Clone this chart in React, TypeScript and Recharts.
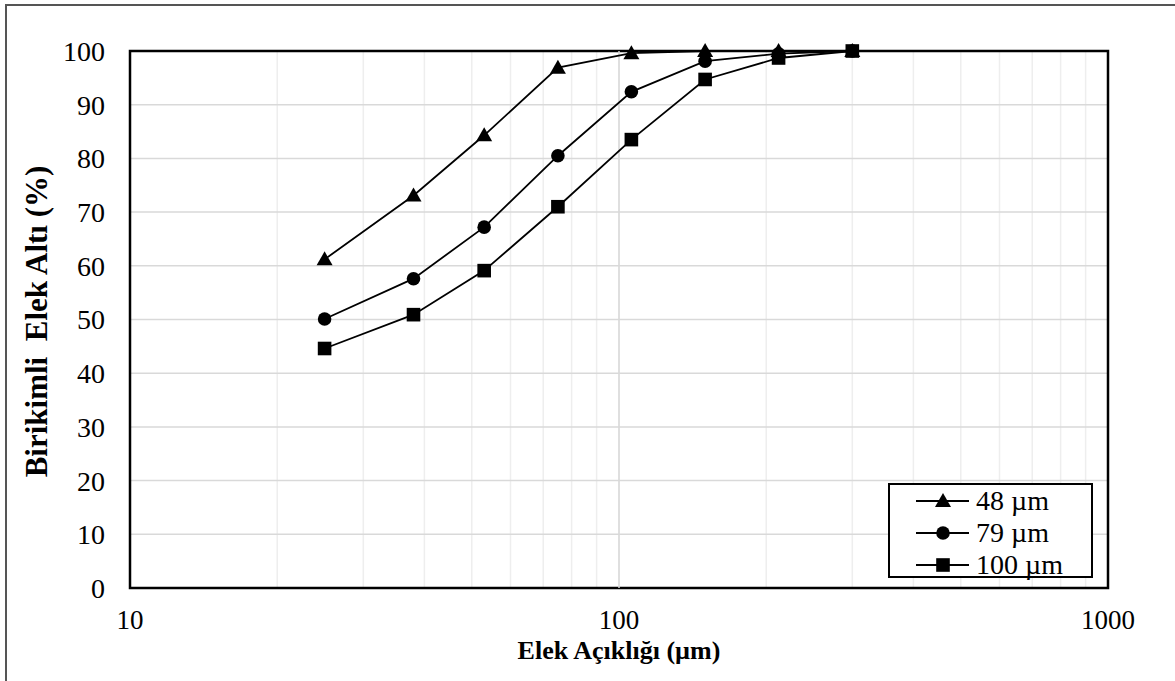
import React from 'react'
import { LineChart, Line, XAxis, YAxis, CartesianGrid, ReferenceLine, ReferenceArea, Label } from 'recharts'

// sieve openings (µm) and cumulative passing (%)
const sizes = [25, 38, 53, 75, 106, 150, 212, 300]
const pass48 = [61.2, 73.1, 84.3, 96.9, 99.6, 100, 100, 100]
const pass79 = [50.1, 57.6, 67.2, 80.5, 92.4, 98.1, 99.5, 100]
const pass100 = [44.6, 50.9, 59.1, 71.0, 83.5, 94.7, 98.7, 100]
const seriesNames = ['48 µm', '79 µm', '100 µm']
const seriesKeys = ['s48', 's79', 's100']

const xTicks = [10, 20, 30, 40, 50, 60, 70, 80, 90, 100, 200, 300, 400, 500, 600, 700, 800, 900, 1000]
const xLabels = [10, 100, 1000]
const yTicks = [0, 10, 20, 30, 40, 50, 60, 70, 80, 90, 100]

const data = sizes.map((size, i) => ({ size, s48: pass48[i], s79: pass79[i], s100: pass100[i] }))

const FONT = '"Liberation Serif", "Times New Roman", serif'

const Marker = ({ shape, cx, cy }: { shape: number, cx: number, cy: number }) => {
    if (shape === 0) {
        return <path d={`M${cx},${cy - 8} L${cx + 8},${cy + 6} L${cx - 8},${cy + 6} Z`} fill="#000" />
    }
    if (shape === 1) {
        return <circle cx={cx} cy={cy} r={6.8} fill="#000" />
    }
    return <rect x={cx - 6.8} y={cy - 6.8} width={13.6} height={13.6} fill="#000" />
}

const makeDot = (shape: number) => (props: any) => {
    const { cx, cy, index } = props
    return <Marker key={`m-${shape}-${index}`} shape={shape} cx={cx} cy={cy} />
}

export default function App() {
    return (
        <div style={{ position: 'absolute', left: 0, top: 0, width: 1175, height: 681, background: '#fff', overflow: 'hidden' }}>
            <div style={{ position: 'absolute', left: 5, top: 4, width: 1300, height: 800, borderLeft: '2px solid #555', borderTop: '2px solid #555' }} />
            <LineChart width={1175} height={681} data={data} margin={{ top: 51, right: 67, bottom: 0, left: 0 }}>
                <CartesianGrid horizontal={false} stroke="#eeeeee" strokeWidth={1.5} />
                <CartesianGrid vertical={false} stroke="#d9d9d9" strokeWidth={1.5} />
                <ReferenceLine x={100} stroke="#d9d9d9" strokeWidth={1.5} />
                <XAxis
                    dataKey="size"
                    type="number"
                    scale="log"
                    domain={[10, 1000]}
                    ticks={xTicks}
                    tickFormatter={(v: number) => (xLabels.includes(v) ? String(v) : '')}
                    allowDataOverflow
                    axisLine={false}
                    tickLine={false}
                    tickSize={0}
                    tickMargin={22}
                    height={93}
                    tick={{ fill: '#000', fontSize: 27, fontFamily: FONT }}
                >
                    <Label content={(p: any) => (
                        <text x={p.viewBox.x + p.viewBox.width / 2} y={p.viewBox.y + 71} textAnchor="middle"
                            fontFamily={FONT} fontWeight="bold" fontSize={26} fill="#000">Elek Açıklığı (µm)</text>
                    )} />
                </XAxis>
                <YAxis
                    type="number"
                    domain={[0, 100]}
                    ticks={yTicks}
                    interval={0}
                    axisLine={false}
                    tickLine={false}
                    tickSize={0}
                    tickMargin={25}
                    width={130}
                    tick={{ fill: '#000', fontSize: 28, fontFamily: FONT }}
                >
                    <Label content={(p: any) => {
                        const cy = p.viewBox.y + p.viewBox.height / 2 + 2
                        return (
                            <text x={47} y={cy} transform={`rotate(-90 47 ${cy})`} textAnchor="middle"
                                fontFamily={FONT} fontWeight="bold" fontSize={31} fill="#000" style={{ whiteSpace: 'pre' }}>Birikimli  Elek Altı (%)</text>
                        )
                    }} />
                </YAxis>
                <ReferenceArea x1={10} x2={1000} y1={0} y2={100} fill="none" stroke="#000" strokeWidth={2.5} />
                {seriesKeys.map((k, i) => (
                    <Line key={k} dataKey={k} name={seriesNames[i]} stroke="#000" strokeWidth={1.8}
                        dot={makeDot(i)} activeDot={false} isAnimationActive={false} />
                ))}
            </LineChart>
            <div style={{ position: 'absolute', left: 888, top: 483, width: 201, height: 91, border: '2px solid #000', background: '#fff', fontFamily: FONT, fontSize: 28, color: '#000' }}>
                {seriesNames.map((name, i) => (
                    <div key={name} style={{ position: 'absolute', left: 0, top: i * 32, height: 32, display: 'flex', alignItems: 'center' }}>
                        <svg width={86} height={32} style={{ display: 'block' }}>
                            <line x1={26} y1={16} x2={79} y2={16} stroke="#000" strokeWidth={1.8} />
                            <Marker shape={i} cx={53} cy={16} />
                        </svg>
                        <span style={{ lineHeight: '32px', whiteSpace: 'nowrap' }}>{name}</span>
                    </div>
                ))}
            </div>
        </div>
    )
}
